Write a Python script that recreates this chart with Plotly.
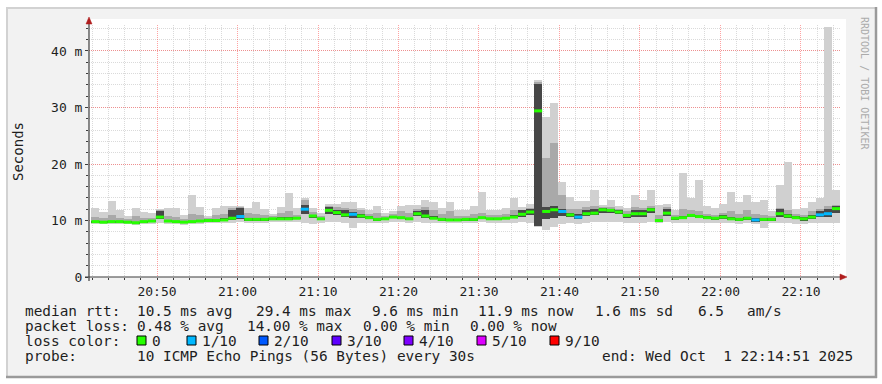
import plotly.graph_objects as go
import pandas as pd

# ---------------- data ----------------
START = "2025-10-01 20:41:51"   # first 1-minute step
STEP_S = 60
X_RANGE = ["2025-10-01 20:41:33", "2025-10-01 22:14:51"]

median_ms = [9.8, 9.7, 9.8, 9.8, 9.7, 9.6, 9.8, 9.9, 10.6, 9.9,
             9.8, 9.7, 9.8, 9.9, 10.0, 10.0, 10.1, 10.4, 10.7, 10.2,
             10.2, 10.2, 10.3, 10.3, 10.3, 10.4, 12.0, 10.8, 10.3, 11.8,
             11.4, 11.0, 11.1, 10.8, 10.5, 10.2, 10.3, 10.6, 10.5, 10.3,
             11.2, 10.8, 10.4, 10.2, 10.1, 10.1, 10.2, 10.2, 10.5, 10.3,
             10.3, 10.4, 10.6, 11.1, 11.5, 29.4, 11.6, 11.9, 11.6, 11.0,
             10.6, 11.2, 11.3, 11.9, 11.8, 11.5, 10.9, 11.2, 11.2, 11.9,
             10.0, 11.3, 10.4, 10.5, 10.9, 10.7, 10.5, 10.4, 10.6, 10.3,
             10.2, 10.4, 10.1, 10.2, 10.2, 11.2, 10.8, 10.5, 10.3, 10.6,
             11.0, 11.2, 12.1]

loss_count = [0, 0, 0, 0, 0, 0, 0, 0, 0, 0,
              0, 0, 0, 0, 0, 0, 0, 0, 1, 0,
              0, 0, 0, 0, 0, 0, 1, 0, 0, 0,
              0, 0, 1, 0, 0, 0, 0, 0, 0, 0,
              0, 0, 0, 0, 0, 0, 0, 0, 0, 0,
              0, 0, 0, 0, 0, 0, 0, 0, 1, 0,
              1, 0, 0, 0, 0, 0, 0, 0, 0, 0,
              0, 0, 0, 0, 0, 0, 0, 0, 0, 0,
              0, 0, 1, 0, 0, 0, 0, 0, 0, 0,
              1, 1, 0]

min_ms = [9.4, 9.3, 9.3, 9.4, 9.3, 9.2, 9.4, 9.4, 9.5, 9.4,
          9.3, 9.2, 9.3, 9.4, 9.5, 9.5, 9.5, 9.6, 9.7, 9.6,
          9.6, 9.6, 9.7, 9.7, 9.7, 9.7, 9.5, 9.4, 9.6, 9.7,
          9.7, 9.6, 8.7, 9.5, 9.6, 9.6, 9.6, 9.7, 9.7, 9.6,
          9.7, 9.6, 9.6, 9.5, 9.5, 9.5, 9.6, 9.6, 9.7, 9.6,
          9.6, 9.6, 9.6, 9.7, 9.6, 8.9, 8.4, 8.9, 9.4, 9.5,
          9.4, 9.6, 9.8, 9.8, 9.8, 9.7, 9.6, 9.6, 9.6, 9.8,
          9.5, 9.7, 9.6, 9.6, 9.6, 9.6, 9.5, 9.5, 9.6, 9.5,
          9.4, 9.5, 9.3, 8.7, 9.5, 9.6, 9.5, 9.4, 9.4, 9.5,
          9.5, 9.5, 9.6]

max_ms = [12.2, 11.5, 13.4, 11.8, 10.8, 12.2, 11.5, 11.4, 12.0, 12.3,
          12.3, 11.0, 14.5, 12.4, 10.8, 12.2, 12.6, 12.6, 12.6, 12.2,
          13.3, 12.0, 11.2, 12.4, 14.8, 12.2, 14.0, 12.2, 11.3, 13.0,
          13.0, 13.2, 13.2, 12.2, 11.8, 12.6, 11.3, 11.7, 12.6, 12.8,
          12.8, 13.6, 13.2, 12.2, 13.3, 11.8, 11.8, 12.5, 15.0, 11.8,
          11.8, 12.2, 14.0, 12.4, 13.0, 34.8, 28.3, 30.8, 16.8, 14.2,
          13.5, 13.4, 15.4, 12.8, 13.6, 12.5, 12.3, 14.5, 13.6, 15.4,
          12.7, 13.0, 11.8, 18.4, 14.0, 17.2, 12.5, 12.3, 13.0, 15.0,
          13.3, 14.5, 13.3, 13.7, 11.6, 16.3, 20.3, 12.0, 12.2, 13.3,
          14.0, 44.2, 15.4]

mid_top_ms = [10.6, 10.4, 11.0, 10.5, 10.3, 10.8, 10.4, 10.5, 11.8, 10.8,
              10.6, 10.3, 11.2, 11.0, 10.5, 10.9, 11.2, 12.2, 12.4, 11.4,
              11.2, 11.0, 10.8, 11.4, 11.6, 11.0, 13.6, 11.5, 10.8, 12.6,
              12.4, 12.2, 12.0, 11.8, 11.2, 11.4, 10.8, 11.2, 11.6, 11.4,
              12.0, 12.4, 11.8, 11.2, 11.6, 10.8, 10.8, 11.2, 11.4, 10.9,
              10.9, 11.2, 11.8, 11.8, 12.2, 34.6, 21.0, 23.7, 14.5, 12.0,
              12.0, 12.4, 12.6, 12.4, 12.4, 12.0, 11.6, 12.4, 12.2, 12.6,
              11.0, 12.4, 11.0, 12.0, 11.8, 11.6, 11.2, 11.0, 11.4, 11.6,
              11.2, 11.8, 11.2, 11.0, 10.8, 12.3, 11.8, 11.2, 11.0, 11.6,
              12.0, 12.6, 12.8]

dark_lo_ms = [9.6, 9.5, 9.6, 9.6, 9.5, 9.4, 9.6, 9.7, 10.2, 9.7,
              9.6, 9.5, 9.6, 9.7, 9.8, 9.8, 9.9, 10.1, 10.3, 10.0,
              10.0, 10.0, 10.1, 10.1, 10.1, 10.2, 11.2, 10.5, 10.1, 11.2,
              11.0, 10.6, 10.4, 10.5, 10.2, 10.0, 10.1, 10.4, 10.3, 10.1,
              10.8, 10.5, 10.2, 10.0, 9.9, 9.9, 10.0, 10.0, 10.3, 10.1,
              10.1, 10.2, 10.4, 10.6, 11.0, 9.0, 10.2, 10.4, 10.8, 10.6,
              10.2, 10.8, 10.9, 11.4, 11.4, 11.1, 10.5, 10.6, 10.7, 11.3,
              9.8, 10.8, 10.1, 10.3, 10.6, 10.4, 10.2, 10.1, 10.3, 10.1,
              10.0, 10.1, 9.8, 10.0, 10.0, 10.6, 10.5, 10.2, 10.0, 10.3,
              10.6, 10.6, 11.4]

dark_top_ms = [10.0, 9.9, 10.0, 10.0, 9.9, 9.8, 10.0, 10.1, 11.6, 10.1,
               10.0, 9.9, 10.0, 10.1, 10.2, 10.2, 10.5, 11.8, 12.2, 10.5,
               10.5, 10.4, 10.5, 10.6, 10.6, 10.7, 12.8, 11.0, 10.5, 12.4,
               11.8, 11.8, 11.5, 11.2, 10.8, 10.4, 10.5, 10.8, 10.7, 10.5,
               11.6, 11.8, 10.8, 10.4, 10.3, 10.3, 10.4, 10.4, 10.7, 10.5,
               10.5, 10.6, 11.0, 11.8, 12.0, 34.2, 12.4, 12.6, 12.0, 11.4,
               11.2, 11.8, 12.0, 12.2, 12.1, 11.8, 11.2, 11.8, 11.8, 12.2,
               10.3, 12.0, 10.6, 10.8, 11.2, 11.0, 10.8, 10.6, 10.9, 10.6,
               10.5, 10.7, 10.4, 10.5, 10.4, 12.0, 11.2, 10.8, 10.6, 10.9,
               11.6, 12.0, 12.5]

y_tickvals = [0, 10, 20, 30, 40]
y_ticktext = ["0", "10 m", "20 m", "30 m", "40 m"]

loss_levels = [0, 1, 2, 3, 4, 5, 9]
loss_labels = ["0", "1/10", "2/10", "3/10", "4/10", "5/10", "9/10"]
loss_colors = ["#26ff00", "#00b8ff", "#0059ff", "#5e00ff", "#7e00ff", "#dd00ff", "#ff0000"]

stats_rtt = ["10.5 ms avg", "29.4 ms max", "9.6 ms min", "11.9 ms now", "1.6 ms sd", "6.5", "am/s"]
stats_loss = ["0.48 % avg", "14.00 % max", "0.00 % min", "0.00 % now"]
probe_text = "10 ICMP Echo Pings (56 Bytes) every 30s"
end_text = "end: Wed Oct \u00a01 22:14:51 2025"

# ---------------- layout geometry (pixels) ----------------
W, H = 882, 384
PL, PR, PT, PB = 89, 840, 25, 277


def px(x):
    return (x - PL) / (PR - PL)


def py(y):
    return (PB - y) / (PB - PT)


MONO = "DejaVu Sans Mono"
TXT = "#1e1e1e"

N = len(median_ms)
t_start = pd.date_range(START, periods=N, freq=f"{STEP_S}s")
step = pd.Timedelta(seconds=STEP_S)
t_mid = t_start + step / 2
t_end = t_start + step

fig = go.Figure()


def band(lo, hi, color):
    fig.add_trace(go.Bar(
        x=t_mid, base=lo, y=[h - l for l, h in zip(lo, hi)],
        width=STEP_S * 1000, marker=dict(color=color, line=dict(width=0)),
        hoverinfo="skip", showlegend=False))


band(min_ms, max_ms, "#d0d0d0")
band(dark_lo_ms, mid_top_ms, "#a9a9a9")
band(dark_lo_ms, dark_top_ms, "#474747")

for lvl, col in zip(loss_levels, loss_colors):
    xs, ys = [], []
    for i in range(N):
        if loss_count[i] == lvl:
            xs += [t_start[i], t_end[i], None]
            ys += [median_ms[i], median_ms[i], None]
    if xs:
        fig.add_trace(go.Scatter(x=xs, y=ys, mode="lines",
                                 line=dict(color=col, width=3),
                                 hoverinfo="skip", showlegend=False))

shapes = []
# frame background and 3D border
shapes.append(dict(type="rect", xref="paper", yref="paper", layer="below",
                   x0=px(6), x1=px(877), y0=py(378), y1=py(7),
                   fillcolor="#f2f2f2", line=dict(width=0)))
shapes.append(dict(type="rect", xref="paper", yref="paper", layer="below",
                   x0=px(PL), x1=px(846), y0=py(PB), y1=py(19),
                   fillcolor="#ffffff", line=dict(width=0)))
for (x0, y0, x1, y1, c, w) in [(6, 8, 877, 8, "#d2d2d2", 2), (7, 7, 7, 378, "#d2d2d2", 2),
                               (6, 377, 877, 377, "#9a9a9a", 2.5), (876, 7, 876, 378, "#9a9a9a", 2.5)]:
    shapes.append(dict(type="line", xref="paper", yref="paper", layer="below",
                       x0=px(x0), x1=px(x1), y0=py(y0), y1=py(y1),
                       line=dict(color=c, width=w)))
# axes with arrows
AX = "#3c3c3c"
shapes.append(dict(type="line", xref="paper", yref="paper", x0=px(PL), x1=px(PL),
                   y0=py(281), y1=py(22), line=dict(color=AX, width=1.2)))
shapes.append(dict(type="line", xref="paper", yref="paper", x0=px(85), x1=px(842),
                   y0=py(PB), y1=py(PB), line=dict(color=AX, width=1.2)))
ARW = "#b01e1e"
shapes.append(dict(type="path", xref="paper", yref="paper",
                   path=f"M {px(86)} {py(24)} L {px(92)} {py(24)} L {px(89)} {py(17)} Z",
                   fillcolor=ARW, line=dict(color=ARW, width=0.5)))
shapes.append(dict(type="path", xref="paper", yref="paper",
                   path=f"M {px(840)} {py(274)} L {px(840)} {py(280)} L {px(847)} {py(PB)} Z",
                   fillcolor=ARW, line=dict(color=ARW, width=0.5)))

ann = []


def text(s, x, y, size=14.4, color=TXT, anchor="left", angle=0):
    ann.append(dict(text=s, x=px(x), y=py(y), xref="paper", yref="paper",
                    xanchor=anchor, yanchor="middle", showarrow=False,
                    textangle=angle, borderpad=0, borderwidth=0,
                    font=dict(family=MONO, size=size, color=color)))


# axis title and watermark
text("Seconds", 18, 152, size=14, anchor="center", angle=-90)
text("RRDTOOL / TOBI OETIKER", 865, 83, size=10, color="#ababab", anchor="center", angle=90)

# legend lines
L1, L2, L3, L4 = 310.5, 325.5, 340.5, 355.5
text("median rtt:", 25, L1)
for s, x in zip(stats_rtt, [137, 256, 372, 478, 595, 698, 747]):
    text(s, x, L1)
text("packet loss:", 25, L2)
for s, x in zip(stats_loss, [137, 247, 363, 470]):
    text(s, x, L2)
text("loss color:", 25, L3)
for lab, col, x in zip(loss_labels, loss_colors, [137, 187, 259, 332, 404, 477, 550]):
    shapes.append(dict(type="rect", xref="paper", yref="paper",
                       x0=px(x), x1=px(x + 9), y0=py(L3 + 4.5), y1=py(L3 - 4.5),
                       fillcolor=col, line=dict(color="#000000", width=1)))
    text(lab, x + 15, L3)
text("probe:", 25, L4)
text(probe_text, 137, L4)
text(end_text, 602, L4)

GRID_MINOR = "#dadada"
GRID_MAJOR = "rgba(255,70,70,0.5)"

fig.update_layout(
    width=W, height=H, autosize=False,
    margin=dict(l=PL, r=W - PR, t=PT, b=H - PB, pad=0),
    paper_bgcolor="#ffffff", plot_bgcolor="rgba(0,0,0,0)",
    barmode="overlay", bargap=0, showlegend=False,
    font=dict(family=MONO, size=13, color=TXT),
    shapes=shapes, annotations=ann,
)
fig.update_xaxes(
    type="date", range=X_RANGE, tickformat="%H:%M",
    tick0="2025-10-01 20:50:00", dtick=600000,
    showgrid=True, gridcolor=GRID_MAJOR, griddash="1px,1px", gridwidth=1,
    ticks="outside", ticklen=2, tickcolor=AX, tickwidth=1,
    showline=False, zeroline=False, fixedrange=True,
    tickfont=dict(family=MONO, size=13, color=TXT),
    minor=dict(tick0="2025-10-01 20:50:00", dtick=120000, showgrid=True,
               gridcolor=GRID_MINOR, griddash="1px,1px", gridwidth=1,
               ticks="outside", ticklen=2, tickcolor=AX),
)
fig.update_yaxes(
    range=[0, 44.6], tickvals=y_tickvals, ticktext=y_ticktext,
    showgrid=True, gridcolor=GRID_MAJOR, griddash="1px,1px", gridwidth=1,
    ticks="outside", ticklen=3, tickcolor=AX, tickwidth=1,
    showline=False, zeroline=False, fixedrange=True,
    tickfont=dict(family=MONO, size=13, color=TXT),
    minor=dict(dtick=2, showgrid=True, gridcolor=GRID_MINOR, griddash="1px,1px",
               gridwidth=1, ticks="outside", ticklen=2, tickcolor=AX),
)

fig.write_html("out.html")
